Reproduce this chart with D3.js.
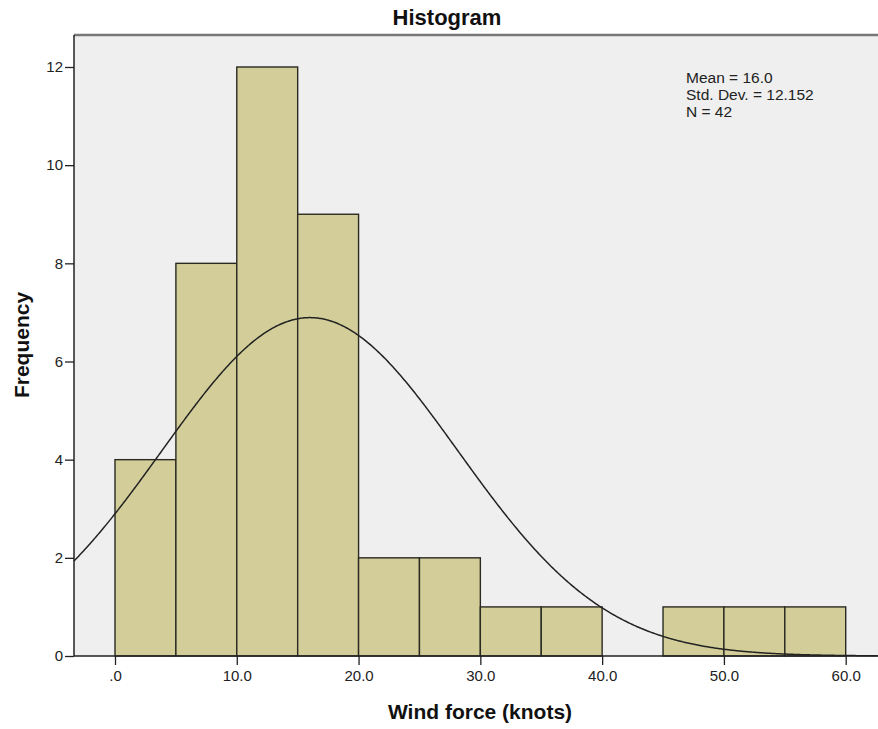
<!DOCTYPE html>
<html>
<head>
<meta charset="utf-8">
<script src="https://cdn.jsdelivr.net/npm/d3@7"></script>
<style>
  html, body { margin: 0; padding: 0; background: #fff; }
  svg { display: block; font-family: "Liberation Sans", Arial, sans-serif; }
</style>
</head>
<body>
<svg id="chart" width="878" height="729"></svg>
<script>
// Wind force histogram, 5-knot bins
const binStarts = [0, 5, 10, 15, 20, 25, 30, 35, 40, 45, 50, 55];
const binWidth = 5;
const frequencies = [4, 8, 12, 9, 2, 2, 1, 1, 0, 1, 1, 1];
const xTicks = [0, 10, 20, 30, 40, 50, 60];
const xTickLabels = [".0", "10.0", "20.0", "30.0", "40.0", "50.0", "60.0"];
const yTicks = [0, 2, 4, 6, 8, 10, 12];
const stats = { mean: 16.0, sd: 12.152, n: 42 };
const statLines = ["Mean = 16.0", "Std. Dev. = 12.152", "N = 42"];

const svg = d3.select("#chart");

const plot = { left: 74, right: 878, top: 35, bottom: 656 };

const x = d3.scaleLinear().domain([0, 60]).range([115, 845.7]);
const y = d3.scaleLinear().domain([0, 12]).range([656, 67]);

// plot background
svg.append("rect")
  .attr("x", plot.left).attr("y", plot.top)
  .attr("width", plot.right - plot.left).attr("height", plot.bottom - plot.top)
  .attr("fill", "#efefef");

// top frame line
svg.append("line")
  .attr("x1", plot.left).attr("x2", plot.right)
  .attr("y1", plot.top).attr("y2", plot.top)
  .attr("stroke", "#777").attr("stroke-width", 2.5);

// bars
const bins = binStarts.map((s, i) => ({ x0: s, x1: s + binWidth, f: frequencies[i] }));
svg.append("g").selectAll("rect")
  .data(bins.filter(d => d.f > 0))
  .join("rect")
  .attr("x", d => x(d.x0))
  .attr("y", d => y(d.f))
  .attr("width", d => x(d.x1) - x(d.x0))
  .attr("height", d => y(0) - y(d.f))
  .attr("fill", "#d3ce99")
  .attr("stroke", "#2a2a22")
  .attr("stroke-width", 1.4);

// fitted normal curve scaled to counts
const xMin = x.invert(plot.left), xMax = x.invert(plot.right);
const pts = d3.range(xMin, xMax + 0.01, 0.1).map(v => {
  const z = (v - stats.mean) / stats.sd;
  return [v, stats.n * binWidth * Math.exp(-0.5 * z * z) / (stats.sd * Math.sqrt(2 * Math.PI))];
});
svg.append("path")
  .datum(pts)
  .attr("d", d3.line().x(d => x(d[0])).y(d => y(d[1])).curve(d3.curveBasis))
  .attr("fill", "none")
  .attr("stroke", "#222")
  .attr("stroke-width", 1.5);

// axes
const xAxis = svg.append("g")
  .attr("transform", `translate(0,${plot.bottom})`)
  .call(d3.axisBottom(x).tickValues(xTicks).tickFormat((d, i) => xTickLabels[i]).tickSize(9).tickSizeOuter(0));
xAxis.select(".domain").remove();
xAxis.append("line").attr("x1", plot.left).attr("x2", plot.right).attr("y1", 0).attr("y2", 0)
  .attr("stroke", "#222").attr("stroke-width", 1.5);
xAxis.selectAll(".tick line").attr("stroke", "#222").attr("stroke-width", 1.3);
xAxis.selectAll(".tick text").attr("font-size", 15).attr("fill", "#222").attr("dy", "0.95em").attr("y", 11);

const yAxis = svg.append("g")
  .attr("transform", `translate(${plot.left},0)`)
  .call(d3.axisLeft(y).tickValues(yTicks).tickFormat(d3.format("d")).tickSize(9).tickSizeOuter(0));
yAxis.select(".domain").remove();
yAxis.append("line").attr("x1", 0).attr("x2", 0).attr("y1", plot.top).attr("y2", plot.bottom)
  .attr("stroke", "#222").attr("stroke-width", 1.5);
yAxis.selectAll(".tick line").attr("stroke", "#222").attr("stroke-width", 1.3);
yAxis.selectAll(".tick text").attr("font-size", 15).attr("fill", "#222").attr("x", -11);

// titles
svg.append("text")
  .attr("x", 447).attr("y", 25)
  .attr("text-anchor", "middle")
  .attr("font-size", 22).attr("font-weight", "bold").attr("fill", "#111")
  .text("Histogram");

svg.append("text")
  .attr("x", 480).attr("y", 719)
  .attr("text-anchor", "middle")
  .attr("font-size", 21).attr("font-weight", "bold").attr("fill", "#111")
  .text("Wind force (knots)");

svg.append("text")
  .attr("transform", "translate(29,345) rotate(-90)")
  .attr("text-anchor", "middle")
  .attr("font-size", 21).attr("font-weight", "bold").attr("fill", "#111")
  .text("Frequency");

// summary statistics
svg.append("g").selectAll("text")
  .data(statLines)
  .join("text")
  .attr("x", 686)
  .attr("y", (d, i) => 82.5 + i * 17)
  .attr("font-size", 15.5).attr("fill", "#222")
  .text(d => d);
</script>
</body>
</html>
